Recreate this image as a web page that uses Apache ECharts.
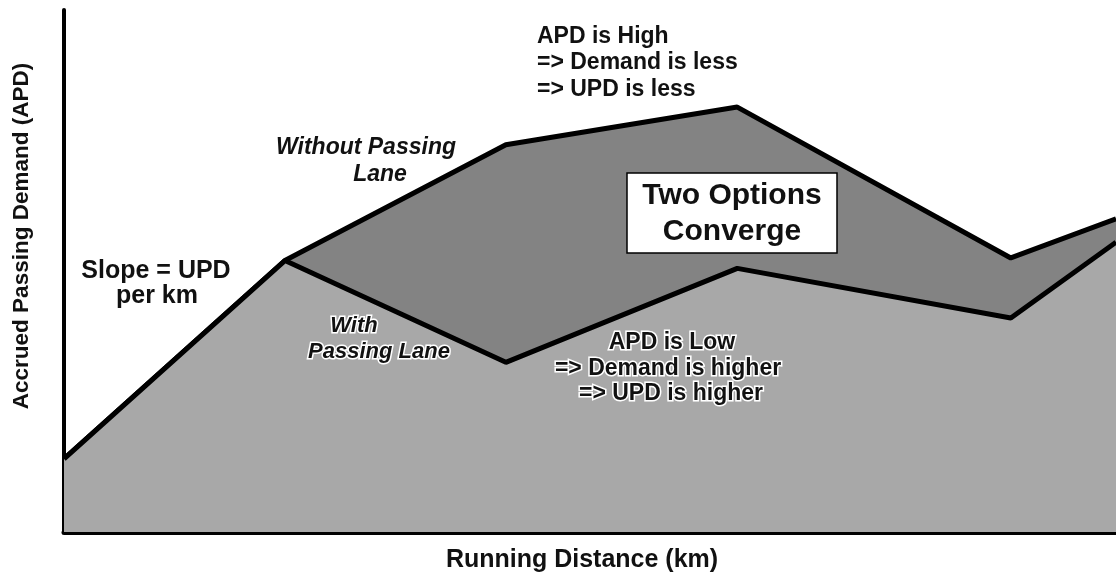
<!DOCTYPE html>
<html>
<head>
<meta charset="utf-8">
<script src="https://cdn.jsdelivr.net/npm/echarts@6/dist/echarts.min.js"></script>
<style>
  html, body { margin: 0; padding: 0; background: #fff; }
  #chart { width: 1116px; height: 579px; }
</style>
</head>
<body>
<div id="chart"></div>
<script>
// running distance (arbitrary units, 0-100)
var distance = [0, 21, 42, 64, 90, 100];
// accrued passing demand without / with the passing lane
var apdWithout = [14, 52, 74.2, 81.4, 52.5, 60];
var apdWith = [14, 52, 32.5, 50.5, 41, 55.5];

var FONT = 'Liberation Sans, Arial, sans-serif';

function pairs(xs, ys) {
  var out = [];
  for (var i = 0; i < xs.length; i++) out.push([xs[i], ys[i]]);
  return out;
}

// one annotation line, centred vertically on y
function label(text, x, y, size, align, opts) {
  var style = {
    text: text,
    font: (opts && opts.italic ? 'italic ' : '') + 'bold ' + size + 'px ' + FONT,
    fill: '#111',
    align: align,
    verticalAlign: 'middle'
  };
  if (opts && opts.halo) { style.stroke = '#fff'; style.lineWidth = 3; }
  return { type: 'text', x: x, y: y, z: 11, style: style };
}

var myChart = echarts.init(document.getElementById('chart'));

var option = {
  animation: false,
  backgroundColor: '#fff',
  grid: { left: 64, right: 0, top: 10, bottom: 47 },
  xAxis: {
    type: 'value', min: 0, max: 100,
    name: 'Running Distance (km)',
    nameLocation: 'middle',
    nameGap: 16,
    nameTextStyle: { fontFamily: FONT, fontWeight: 'bold', fontSize: 25, color: '#111',
                     padding: [0, 16, 0, 0] },
    axisLine: { show: true, lineStyle: { color: '#000', width: 5 } },
    axisTick: { show: false },
    axisLabel: { show: false },
    splitLine: { show: false }
  },
  yAxis: {
    type: 'value', min: 0, max: 100,
    axisLine: { show: true, lineStyle: { color: '#000', width: 4 } },
    axisTick: { show: false },
    axisLabel: { show: false },
    splitLine: { show: false }
  },
  series: [
    {
      name: 'Without Passing Lane',
      type: 'line',
      symbol: 'none',
      data: pairs(distance, apdWithout),
      lineStyle: { color: '#000', width: 5 },
      areaStyle: { color: '#838383', opacity: 1 },
      z: 2
    },
    {
      name: 'With Passing Lane',
      type: 'line',
      symbol: 'none',
      data: pairs(distance, apdWith),
      lineStyle: { color: '#000', width: 5 },
      areaStyle: { color: '#a8a8a8', opacity: 1 },
      z: 3
    }
  ],
  graphic: [
    {
      type: 'text', x: 22, y: 236, rotation: Math.PI / 2, z: 11,
      style: { text: 'Accrued Passing Demand (APD)', font: 'bold 22.5px ' + FONT, fill: '#111',
               align: 'center', verticalAlign: 'middle' }
    },
    label('Slope = UPD', 156, 271, 25, 'center'),
    label('per km', 157, 296, 25, 'center'),
    label('Without Passing', 366, 148, 23, 'center', { italic: true }),
    label('Lane', 380, 175, 23, 'center', { italic: true }),
    label('With', 354, 326, 22, 'center', { italic: true, halo: true }),
    label('Passing Lane', 379, 352, 22, 'center', { italic: true, halo: true }),
    label('APD is High', 537, 37, 23, 'left'),
    label('=> Demand is less', 537, 63, 23, 'left'),
    label('=> UPD is less', 537, 90, 23, 'left'),
    label('APD is Low', 672, 343, 23, 'center', { halo: true }),
    label('=> Demand is higher', 668, 369, 23, 'center', { halo: true }),
    label('=> UPD is higher', 671, 394, 23, 'center', { halo: true }),
    {
      type: 'rect', z: 10,
      shape: { x: 627, y: 173, width: 210, height: 80 },
      style: { fill: '#fff', stroke: '#000', lineWidth: 1.5 }
    },
    label('Two Options', 732, 196, 30, 'center'),
    label('Converge', 732, 232, 30, 'center')
  ]
};

myChart.setOption(option);
</script>
</body>
</html>
